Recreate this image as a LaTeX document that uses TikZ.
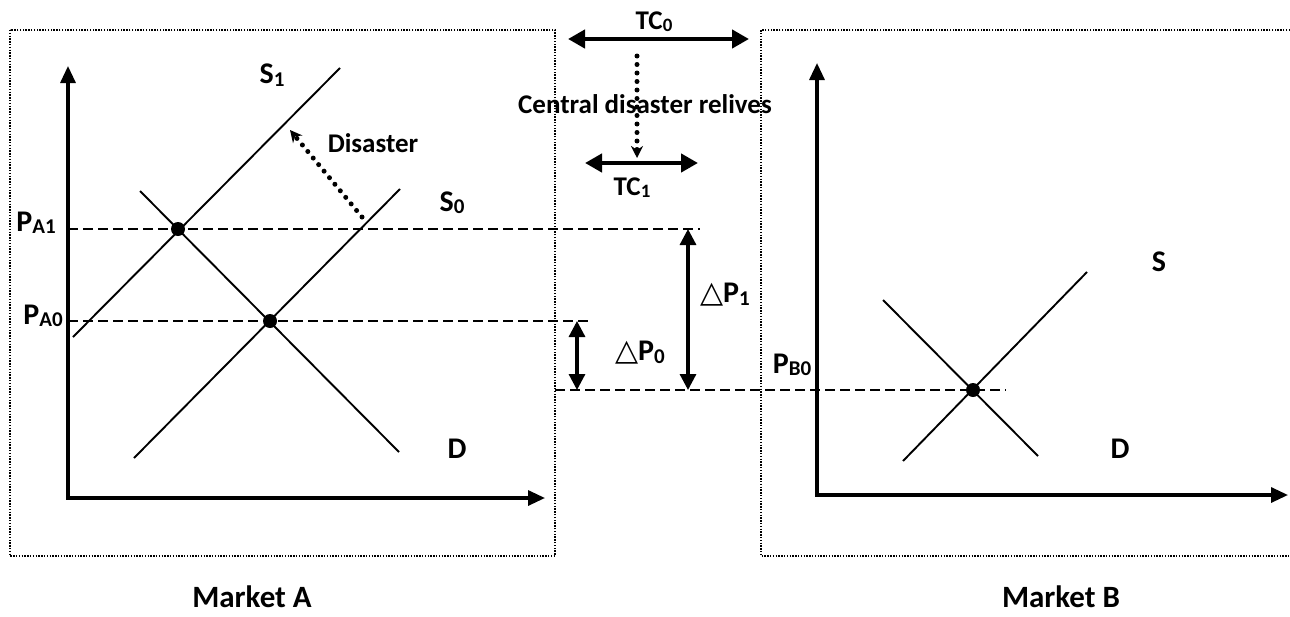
\documentclass[tikz,border=0pt]{standalone}
\usepackage{fontspec}
\setmainfont{Carlito}
\newfontfamily\symfont{DejaVu Sans}
\usepackage{graphicx}
\usetikzlibrary{arrows.meta,positioning}

\newcommand{\sbs}[1]{\raisebox{-0.08em}{\scalebox{0.7}{#1}}}
\newcommand{\dtri}{{\symfont\mdseries △}}

\begin{document}
\begin{tikzpicture}[x=1pt, y=-1pt,
    font=\bfseries\fontsize{30}{32}\selectfont,
    lbl/.style={inner sep=0pt},
    tclbl/.style={inner sep=0pt, font=\bfseries\fontsize{27}{29}\selectfont},
    mkt/.style={inner sep=0pt, font=\bfseries\fontsize{31}{33}\selectfont},
    mktbox/.style={line width=1.4pt, dash pattern=on 1.4pt off 1.4pt},
    axline/.style={line width=3.2pt, {Triangle[length=17pt,width=15pt]}-{Triangle[length=17pt,width=15pt]}},
    curve/.style={line width=1.9pt},
    guide/.style={line width=1.7pt, dash pattern=on 10pt off 5pt},
    eqpt/.style={circle, fill, inner sep=0pt, minimum size=14pt},
    dbl/.style={line width=3.2pt, {Triangle[length=16pt,width=16pt]}-{Triangle[length=16pt,width=16pt]}},
    tcbar/.style={line width=4.5pt, {Triangle[length=17pt,width=18pt]}-{Triangle[length=17pt,width=18pt]}},
    move/.style={line width=5pt, line cap=round, dash pattern=on 0pt off 8.5pt,
                 -{Stealth[length=12pt,width=12pt]}},
    ]
\useasboundingbox (0,0) rectangle (1290,616);

% Market A
\draw[mktbox] (10,30) rectangle (555,556);
\coordinate (oA) at (68,498);
\draw[axline] (68,66) -- (oA) -- (545,498);

\coordinate (s1lo) at (73,337);  \coordinate (s1hi) at (340,68);
\coordinate (s0lo) at (134,458); \coordinate (s0hi) at (400,189);
\coordinate (dAhi) at (140,191); \coordinate (dAlo) at (399,452);
\draw[curve] (s1lo) -- (s1hi);
\draw[curve] (s0lo) -- (s0hi);
\draw[curve] (dAhi) -- (dAlo);

\coordinate (eA1) at (178,229);
\coordinate (eA0) at (270,321);
\coordinate (gA1) at (700,229);
\coordinate (gA0) at (588,321);
\draw[guide] (oA |- eA1) -- (gA1);
\draw[guide] (oA |- eA0) -- (gA0);
\node[eqpt] (ptA1) at (eA1) {};
\node[eqpt] (ptA0) at (eA0) {};

\draw[move] (362,217) -- (290,130);

\node[lbl] (pa1) at (36,223) {P\sbs{A1}};
\node[lbl] (pa0) at (43,316) {P\sbs{A0}};
\node[lbl] (s1) at (272,75) {S\sbs{1}};
\node[lbl] (s0) at (452,203) {S\sbs{0}};
\node[lbl] (da) at (457,449) {D};
\node[lbl, font=\bfseries\fontsize{27}{29}\selectfont] (dis) at (373,143) {Disaster};
\node[mkt] (mA) at (252,597) {Market A};

% transport cost
\coordinate (tc0l) at (568,39); \coordinate (tc0r) at (749,39);
\coordinate (tc1l) at (585,163); \coordinate (tc1r) at (698,163);
\draw[tcbar] (tc0l) -- (tc0r);
\draw[tcbar] (tc1l) -- (tc1r);
\draw[move] (637,56) -- (637,158);
\node[tclbl] (tc0) at (654,22) {TC\sbs{0}};
\node[tclbl] (tc1) at (632,188) {TC\sbs{1}};
\node[lbl, font=\bfseries\fontsize{27}{29}\selectfont] (relief) at (645,104) {Central disaster relives};

% price gaps
\coordinate (gB) at (1006,390);
\draw[guide] (555,390) -- (gB);
\draw[dbl] (577,321) -- (577,390);
\draw[dbl] (688,229) -- (688,390);
\node[lbl] (dp0) at (640,353) {\dtri P\sbs{0}};
\node[lbl] (dp1) at (725,295) {\dtri P\sbs{1}};

% Market B
\draw[mktbox] (1290,30) -- (761,30) -- (761,556) -- (1290,556);
\coordinate (oB) at (817,495);
\draw[axline] (817,63) -- (oB) -- (1288,495);

\coordinate (sBlo) at (903,461);  \coordinate (sBhi) at (1087,272);
\coordinate (dBhi) at (883,300);  \coordinate (dBlo) at (1038,456);
\draw[curve] (sBlo) -- (sBhi);
\draw[curve] (dBhi) -- (dBlo);
\node[eqpt] (ptB) at (973,390) {};

\node[lbl] (pb0) at (792,365) {P\sbs{B0}};
\node[lbl] (sb) at (1159,262) {S};
\node[lbl] (db) at (1120,449) {D};
\node[mkt] (mB) at (1061,597) {Market B};
\end{tikzpicture}
\end{document}
